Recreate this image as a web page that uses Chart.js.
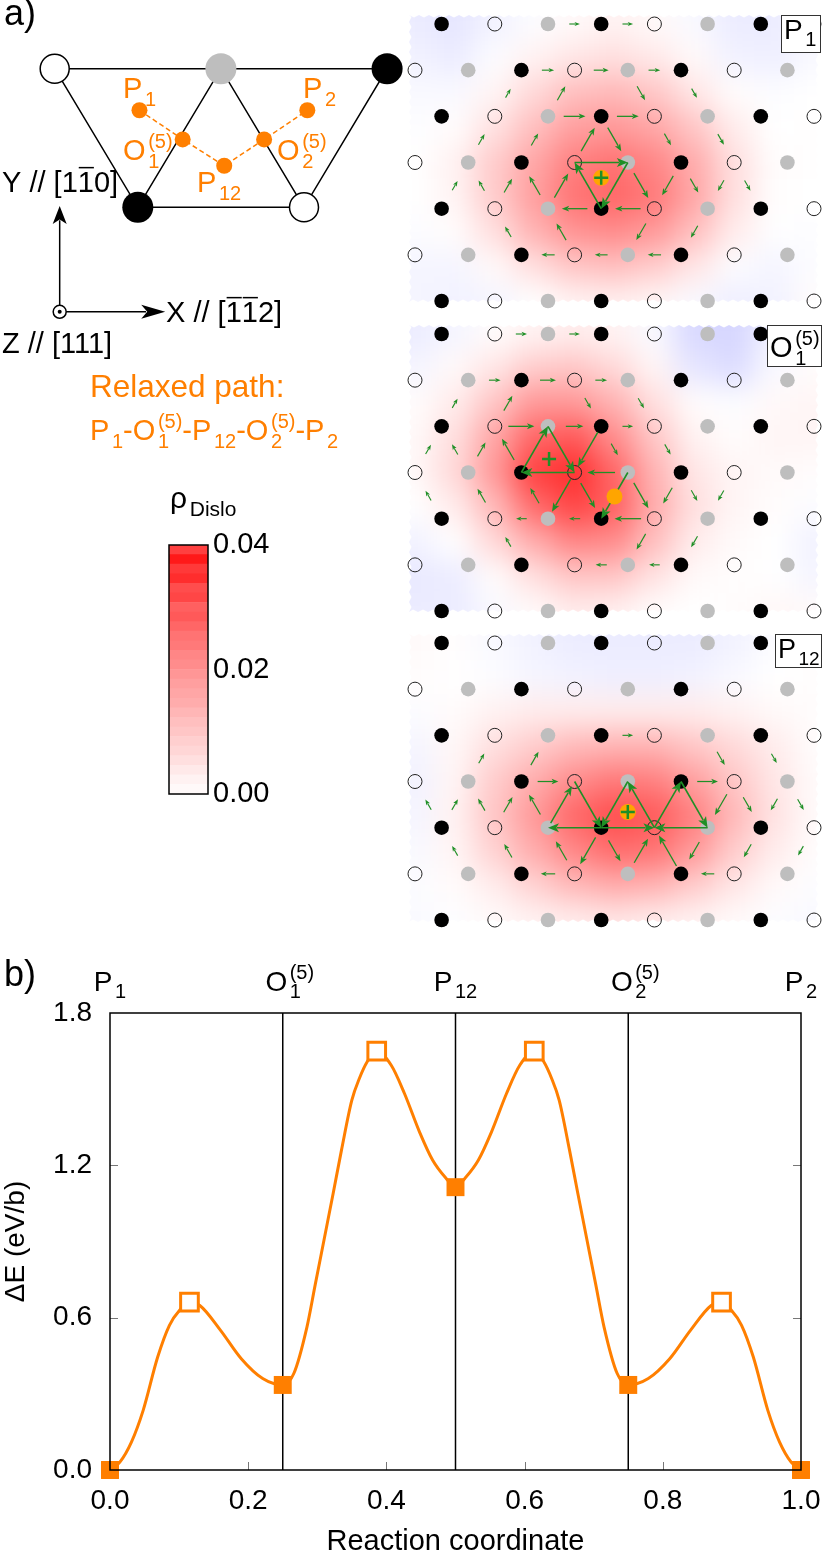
<!DOCTYPE html>
<html>
<head>
<meta charset="utf-8">
<title>Dislocation core path</title>
<script src="https://cdn.jsdelivr.net/npm/chart.js@4/dist/chart.umd.js"></script>
<style>
    html, body { margin: 0; padding: 0; background: #fff; }
    body { position: relative; width: 822px; height: 1554px; overflow: hidden; }
    canvas { position: absolute; }
    #schematic { left: 0; top: 0; }
    #panel-p1 { left: 405px; top: 0; }
    #panel-o1 { left: 405px; top: 315px; }
    #panel-p12 { left: 405px; top: 625px; }
    #colorbar { left: 165px; top: 480px; }
    #energy { left: 0; top: 950px; }
</style>
</head>
<body>
<canvas id="schematic" width="405" height="480"></canvas>
<canvas id="panel-p1" width="417" height="315"></canvas>
<canvas id="panel-o1" width="417" height="307"></canvas>
<canvas id="panel-p12" width="417" height="305"></canvas>
<canvas id="colorbar" width="120" height="340"></canvas>
<canvas id="energy" width="822" height="604"></canvas>
<script>
// Energy profile (panel b)
const curveX = [0, .014, .031, .048, .069, .086, .101, .115, .13, .16, .19, .221, .25, .266, .285, .297, .31, .323, .335, .35, .361, .372, .386, .407, .426, .448, .467, .486, .5,
    .514, .533, .552, .574, .593, .614, .628, .639, .65, .665, .677, .69, .703, .715, .734, .75, .779, .81, .84, .87, .885, .899, .914, .931, .952, .969, .986, 1];
const curveE = [0, .03, .11, .235, .445, .57, .63, .661, .648, .55, .438, .36, .335, .38, .563, .73, .91, 1.09, 1.26, 1.457, 1.543, 1.607, 1.65, 1.594, 1.484, 1.331, 1.22, 1.15, 1.114,
    1.15, 1.22, 1.331, 1.484, 1.594, 1.65, 1.607, 1.543, 1.457, 1.26, 1.09, .91, .73, .563, .38, .335, .36, .438, .55, .648, .661, .63, .57, .445, .235, .11, .03, 0];
const minimaX = [0, .25, .5, .75, 1];
const minimaE = [0, .335, 1.114, .335, 0];
const saddleX = [.115, .386, .614, .885];
const saddleE = [.661, 1.65, 1.65, .661];
const xTicks = [0, .2, .4, .6, .8, 1];
const yTicks = [0, .6, 1.2, 1.8];
const separatorX = [.25, .5, .75];

// Atoms, in lattice units: column = half a row step, row = one atomic row
const latticeRows = [0, 1, 2, 3, 4, 5, 6];
const evenRowCols = [1, 3, 5, 7, 9, 11, 13, 15];
const evenRowKinds = ['black', 'white', 'gray', 'black', 'white', 'gray', 'black', 'white'];
const oddRowCols = [0, 2, 4, 6, 8, 10, 12, 14];
const oddRowKinds = ['white', 'gray', 'black', 'white', 'gray', 'black', 'white', 'gray'];

// Disregistry arrows: from col, from row, to col, to row, share of the bond
const arrowsP1 = [
    [5,0,7,0,.2],[7,0,9,0,.2],[4,1,6,1,.23],[6,1,8,1,.28],[8,1,10,1,.22],
    [3,2,4,1,.19],[5,2,6,1,.3],[8,1,9,2,.3],[10,1,11,2,.2],[5,2,7,2,.41],[7,2,9,2,.41],
    [2,3,3,2,.23],[4,3,5,2,.26],[6,3,7,2,.51],[7,2,8,3,.51],[9,2,10,3,.25],[11,2,12,3,.23],
    [6,3,8,3,1],[8,3,7,4,1],[7,4,6,3,1],
    [1,4,2,3,.2],[3,4,2,3,.22],[3,4,4,3,.3],[5,4,4,3,.41],[5,4,6,3,.52],[8,3,9,4,.54],
    [10,3,9,4,.42],[10,3,11,4,.3],[12,3,11,4,.23],[12,3,13,4,.22],
    [7,4,5,4,.48],[9,4,7,4,.48],
    [4,5,3,4,.23],[6,5,5,4,.36],[9,4,8,5,.36],[11,4,10,5,.26],
    [6,5,4,5,.25],[8,5,6,5,.24],[10,5,8,5,.25]
];
const arrowsO1 = [
    [3,0,5,0,.21],[5,0,7,0,.2],[2,1,4,1,.22],[4,1,6,1,.3],[6,1,8,1,.22],
    [1,2,2,1,.2],[3,2,4,1,.32],[6,1,7,2,.23],[8,1,9,2,.22],[3,2,5,2,.49],[5,2,7,2,.33],[7,2,9,2,.2],
    [0,3,1,2,.2],[2,3,1,2,.22],[2,3,3,2,.3],[4,3,3,2,.46],[4,3,5,2,1],[5,2,6,3,1],[7,2,6,3,.75],
    [7,2,8,3,.25],[9,2,10,3,.22],[6,3,4,3,1],[8,3,6,3,.52],
    [1,4,0,3,.21],[3,4,2,3,.3],[5,4,4,3,.33],[6,3,5,4,.7],[6,3,7,4,.54],[8,3,7,4,1],[8,3,9,4,.55],
    [10,3,9,4,.34],[10,3,11,4,.23],[12,3,11,4,.22],
    [5,4,3,4,.2],[7,4,5,4,.21],[9,4,7,4,.5],
    [4,5,3,4,.21],[9,4,8,5,.34],[11,4,10,5,.24],[8,5,6,5,.21],[10,5,8,5,.2]
];
const arrowsP12 = [
    [7,2,9,2,.2],[2,3,3,2,.21],[4,3,5,2,.29],[11,2,12,3,.29],[13,2,14,3,.2],
    [4,3,6,3,.39],[10,3,12,3,.39],
    [1,4,0,3,.22],[1,4,2,3,.23],[3,4,2,3,.26],[3,4,4,3,.33],[5,4,4,3,.43],[5,4,6,3,.8],[6,3,7,4,1],
    [8,3,7,4,1],[9,4,8,3,1],[9,4,10,3,1],[10,3,11,4,1],[12,3,11,4,.45],[12,3,13,4,.32],[14,3,13,4,.25],[14,3,15,4,.23],
    [7,4,5,4,1],[7,4,9,4,1],[11,4,9,4,1],
    [2,5,1,4,.21],[4,5,3,4,.29],[6,5,5,4,.41],[7,4,6,5,.58],[7,4,8,5,.45],[8,5,9,4,.52],[10,5,9,4,.66],
    [11,4,10,5,.38],[13,4,12,5,.28],[15,4,14,5,.2],[6,5,4,5,.27],[12,5,10,5,.25]
];

// Dislocation density, in units of 0.001, one line per row
const heatCols = [0, 1.5, 3, 4.5, 6, 7.5, 9, 10.5, 12, 13.5, 15];
const heatRows = [0, .75, 1.5, 2.25, 3, 3.75, 4.5, 5.25, 6];
const rhoP1 = [
    [-3, -4, -2, -.5, 1, 2, 1, -1, -3, -3, -1],
    [-2, -3, -.5, 2, 4, 5, 3.5, 1, -2, -2.5, -1],
    [-1, -1, 1.5, 6, 10, 11, 9, 4, .5, -.5, 0],
    [-.3, .5, 4.5, 10, 15, 16, 14, 9, 3, 0, .2],
    [0, 2, 8, 14, 20, 22, 19, 13, 5, .5, .2],
    [0, 1.8, 8, 15, 22, 24, 21, 14, 5, .3, 0],
    [-.5, .5, 5, 12, 17, 18, 16, 10, 3, -.2, -.3],
    [-1.5, -1.5, 1, 5, 9, 10, 8, 4, -.5, -1.5, -.5],
    [-1.5, -2, -1.5, .2, 2, 2.5, 1.5, -1, -2.5, -2, .5]
];
const rhoO1 = [
    [-3, -1.5, .5, 2, 3, 2, -1, -6, -6.5, -2, -1],
    [-1.5, 1, 4, 8, 9, 6, 1.5, -4, -5.5, -1, .5],
    [.5, 3, 9, 16, 16, 12, 5, .5, -.5, 1, 1.5],
    [1, 5, 14, 24, 26, 18, 9, 2, .5, 1.5, 1.5],
    [1, 6, 16, 30, 33, 24, 12, 4, 1.5, .8, .5],
    [0, 3, 11, 23, 29, 25, 13, 5, 1.5, .5, -.5],
    [-2, 0, 6, 13, 19, 18, 10, 3, .8, 0, -2],
    [-3.5, -3, .5, 5, 9, 9, 4.5, 1, .3, 0, -1.5],
    [-3, -3, -1, .8, 3, 2.5, .5, 0, .5, 1.2, .8]
];
const rhoP12 = [
    [.8, .3, -1, -2, -3, -3, -3, -3, -2, -.5, 0],
    [.5, 0, -.5, -1.5, -2, -2.5, -2.5, -2, -1, 0, .3],
    [-.5, .7, 2, 3, 3, 3, 3, 3, 2, 1, .5],
    [-1.5, 1.2, 5, 8, 11, 12, 12, 9, 6, 3, .5],
    [-2, 1.5, 8, 13, 18, 21, 20, 15, 9, 4, .8],
    [-1.5, 2, 9, 16, 24, 28, 26, 20, 11, 4.5, .8],
    [-1, 1.5, 7, 13, 19, 23, 22, 16, 8, 3, .5],
    [-.5, .7, 3, 7, 11, 13, 12, 8, 4, 1, -.3],
    [-.8, -.3, .8, 2, 3, 4, 3, 2, .8, -.5, -1]
];

// Colour bar levels, bottom to top, in units of 0.001
const colorbarLevels = [1, 2, 3.5, 5, 6.5, 7.5, 9, 10, 11.5, 13, 14, 15, 16.5, 18, 19, 21, 22, 24, 26, 25, 29, 28, 33, 31, 36, 30];
const colorbarTicks = [0, .02, .04];

// Schematic (panel a, top left)
const cellCols = [0, 2, 4, 1, 3];
const cellRows = [0, 0, 0, 1, 1];
const cellKinds = ['white', 'gray', 'black', 'black', 'white'];
const pathCols = [1.02, 1.54, 2.04, 2.52, 3.04];
const pathRows = [.3, .51, .7, .51, .3];

const FONT = '"Liberation Sans", Arial, sans-serif';
const ORANGE = '#ff7f00';
const GREEN = '#1f8f26';
const sharedOptions = { responsive: false, animation: false, events: [] };

function rhoColor(v) {
    const t = Math.min(Math.abs(v) / 40, 1);
    const c = Math.round(255 * (1 - t));
    return v >= 0 ? `rgb(255,${c},${c})` : `rgb(${c},${c},255)`;
}

// Text with subscripts, superscripts and overbars
function drawRich(ctx, x, y, tokens, size, color, draw = true) {
    const small = Math.round(size * 0.7);
    let cx = x;
    ctx.save();
    ctx.fillStyle = color;
    ctx.strokeStyle = color;
    ctx.textAlign = 'left';
    ctx.textBaseline = 'alphabetic';
    tokens.forEach(tok => {
        if (typeof tok === 'string') {
            ctx.font = `${size}px ${FONT}`;
            if (draw) ctx.fillText(tok, cx, y);
            cx += ctx.measureText(tok).width;
        } else if (tok.bar) {
            ctx.font = `${size}px ${FONT}`;
            const w = ctx.measureText(tok.bar).width;
            if (draw) {
                ctx.fillText(tok.bar, cx, y);
                ctx.lineWidth = 1.5;
                ctx.beginPath();
                ctx.moveTo(cx + 1, y - size * 0.84);
                ctx.lineTo(cx + w, y - size * 0.84);
                ctx.stroke();
            }
            cx += w;
        } else {
            ctx.font = `${small}px ${FONT}`;
            cx += size * 0.09;
            let w = 0;
            if (tok.sup) {
                if (draw) ctx.fillText(tok.sup, cx, y - size * 0.42);
                w = ctx.measureText(tok.sup).width;
            }
            if (tok.sub) {
                if (draw) ctx.fillText(tok.sub, cx, y + size * 0.26);
                w = Math.max(w, ctx.measureText(tok.sub).width);
            }
            cx += w;
        }
    });
    ctx.restore();
    return cx - x;
}

function drawArrow(ctx, x0, y0, x1, y1, lineWidth, headLen, headWidth, color) {
    const a = Math.atan2(y1 - y0, x1 - x0);
    ctx.save();
    ctx.strokeStyle = color;
    ctx.fillStyle = color;
    ctx.lineWidth = lineWidth;
    ctx.beginPath();
    ctx.moveTo(x0, y0);
    ctx.lineTo(x1 - Math.cos(a) * headLen * 0.8, y1 - Math.sin(a) * headLen * 0.8);
    ctx.stroke();
    ctx.translate(x1, y1);
    ctx.rotate(a);
    ctx.beginPath();
    ctx.moveTo(0, 0);
    ctx.lineTo(-headLen, headWidth / 2);
    ctx.lineTo(-headLen * 0.75, 0);
    ctx.lineTo(-headLen, -headWidth / 2);
    ctx.closePath();
    ctx.fill();
    ctx.restore();
}

function zigzagPath(ctx, l, t, r, b) {
    const step = 5, amp = 2.5;
    ctx.beginPath();
    let i = 0;
    ctx.moveTo(l, t);
    for (let x = l; x < r; x += step) ctx.lineTo(x, t + (i++ % 2 ? amp : 0));
    for (let y = t; y < b; y += step) ctx.lineTo(r - (i++ % 2 ? amp : 0), y);
    for (let x = r; x > l; x -= step) ctx.lineTo(x, b - (i++ % 2 ? amp : 0));
    for (let y = b; y > t; y -= step) ctx.lineTo(l + (i++ % 2 ? amp : 0), y);
    ctx.closePath();
}

// Density map under the atoms
const heatPlugin = {
    id: 'heat',
    beforeDatasetsDraw(chart, args, opts) {
        const { ctx, scales: { x, y }, width, height } = chart;
        const pad = 70;
        const off = document.createElement('canvas');
        off.width = width + 2 * pad;
        off.height = height + 2 * pad;
        const oc = off.getContext('2d');
        const edge = (vals, i, scale, last) => {
            if (i < 0) return -pad;
            if (i >= vals.length - 1) return last + pad;
            return (scale.getPixelForValue(vals[i]) + scale.getPixelForValue(vals[i + 1])) / 2;
        };
        opts.grid.forEach((row, j) => {
            row.forEach((v, i) => {
                const l = edge(heatCols, i - 1, x, width), r = edge(heatCols, i, x, width);
                const t = edge(heatRows, j - 1, y, height), b = edge(heatRows, j, y, height);
                oc.fillStyle = rhoColor(v);
                oc.fillRect(Math.floor(l) + pad, Math.floor(t) + pad, Math.ceil(r - l) + 1, Math.ceil(b - t) + 1);
            });
        });
        ctx.save();
        zigzagPath(ctx, 4, opts.top, width - 4, opts.bottom);
        ctx.clip();
        ctx.filter = 'blur(14px)';
        ctx.drawImage(off, -pad, -pad);
        ctx.restore();
    }
};

// Green arrows go over the atoms and under the orange core marker
const arrowPlugin = {
    id: 'arrows',
    afterDatasetDraw(chart, args, opts) {
        if (chart.data.datasets[args.index].label !== 'black atoms') return;
        const { ctx, scales: { x, y } } = chart;
        opts.list.forEach(([c0, r0, c1, r1, share]) => {
            const ax = x.getPixelForValue(c0), ay = y.getPixelForValue(r0);
            const bx = x.getPixelForValue(c1), by = y.getPixelForValue(r1);
            const mx = (ax + bx) / 2, my = (ay + by) / 2;
            const k = share / 2;
            drawArrow(ctx, mx - (bx - ax) * k, my - (by - ay) * k, mx + (bx - ax) * k, my + (by - ay) * k,
                1 + share * 0.6, 4 + share * 7, 3 + share * 6, GREEN);
        });
    },
    afterDatasetsDraw(chart, args, opts) {
        const { ctx } = chart;
        const b = opts.box;
        ctx.save();
        ctx.fillStyle = '#fff';
        ctx.strokeStyle = '#333';
        ctx.lineWidth = 1;
        ctx.fillRect(b.l, b.t, b.r - b.l, b.b - b.t);
        ctx.strokeRect(b.l + .5, b.t + .5, b.r - b.l - 1, b.b - b.t - 1);
        ctx.restore();
        drawRich(ctx, b.l + 3, b.base, b.tokens, b.size, '#000');
    }
};

function atomPoints(kind) {
    const pts = [];
    latticeRows.forEach(r => {
        const cols = r % 2 ? oddRowCols : evenRowCols;
        const kinds = r % 2 ? oddRowKinds : evenRowKinds;
        cols.forEach((c, i) => { if (kinds[i] === kind) pts.push({ x: c, y: r }); });
    });
    return pts;
}

function drawPanel(id, grid, arrows, corePoint, plusPoint, row0Px, heatTop, heatBottom, box) {
    const canvas = document.getElementById(id);
    const halfStep = 26.6, rowStep = 46.17;
    new Chart(canvas, {
        type: 'scatter',
        data: {
            datasets: [
                { label: 'core plus', data: [plusPoint], pointStyle: 'cross', pointRadius: 7, pointBorderWidth: 2.5, pointBorderColor: GREEN, clip: false, order: 0 },
                { label: 'core', data: corePoint ? [corePoint] : [], pointRadius: 8, pointBackgroundColor: '#ffa500', pointBorderWidth: 0, clip: false, order: 1 },
                { label: 'black atoms', data: atomPoints('black'), pointRadius: 7.3, pointBackgroundColor: '#000', pointBorderWidth: 0, clip: false, order: 2 },
                { label: 'gray atoms', data: atomPoints('gray'), pointRadius: 7.3, pointBackgroundColor: '#bebebe', pointBorderWidth: 0, clip: false, order: 3 },
                { label: 'white atoms', data: atomPoints('white'), pointRadius: 7, pointBackgroundColor: 'rgba(0,0,0,0)', pointBorderColor: '#222', pointBorderWidth: 1, clip: false, order: 4 }
            ]
        },
        options: {
            ...sharedOptions,
            layout: { padding: 0, autoPadding: false },
            scales: {
                x: { display: false, min: -10 / halfStep, max: (canvas.width - 10) / halfStep },
                y: { display: false, reverse: true, min: -row0Px / rowStep, max: (canvas.height - row0Px) / rowStep }
            },
            plugins: {
                legend: { display: false },
                tooltip: { enabled: false },
                heat: { grid, top: heatTop, bottom: heatBottom },
                arrows: { list: arrows, box }
            }
        },
        plugins: [heatPlugin, arrowPlugin]
    });
}

// Structure maps
drawPanel('panel-p1', rhoP1, arrowsP1, { x: 7, y: 3.33 }, { x: 7, y: 3.33 }, 24, 15, 302,
    { l: 376, t: 15, r: 416, b: 53, base: 39, size: 28, tokens: ['P', { sub: '1' }] });
drawPanel('panel-o1', rhoO1, arrowsO1, { x: 7.5, y: 3.52 }, { x: 5.04, y: 2.71 }, 19, 10, 297,
    { l: 362, t: 10, r: 417, b: 52, base: 42, size: 29, tokens: ['O', { sub: '1', sup: '(5)' }] });
drawPanel('panel-p12', rhoP12, arrowsP12, { x: 8, y: 3.66 }, { x: 8, y: 3.66 }, 18, 9, 297,
    { l: 370, t: 9, r: 417, b: 43, base: 33, size: 27, tokens: ['P', { sub: '12' }] });

// Schematic of the triangular cell and the axes
const breakPoint = { x: NaN, y: NaN };
const schematicPlugin = {
    id: 'schematicText',
    afterDatasetsDraw(chart) {
        const { ctx, scales: { x, y } } = chart;
        const ox = x.getPixelForValue(.06), oy = y.getPixelForValue(1.754);
        ctx.save();
        ctx.strokeStyle = '#000';
        ctx.lineWidth = 1.5;
        ctx.beginPath();
        ctx.arc(ox, oy, 6.5, 0, Math.PI * 2);
        ctx.stroke();
        ctx.fillStyle = '#000';
        ctx.beginPath();
        ctx.arc(ox, oy, 2, 0, Math.PI * 2);
        ctx.fill();
        ctx.restore();
        drawArrow(ctx, ox, oy - 6.5, ox, y.getPixelForValue(.99), 1.5, 18, 14, '#000');
        drawArrow(ctx, ox + 6.5, oy, x.getPixelForValue(1.33), oy, 1.5, 24, 14, '#000');

        drawRich(ctx, 4, 25, ['a)'], 36, '#000');
        drawRich(ctx, 2, 192, ['Y // [1', { bar: '1' }, '0]'], 29, '#000');
        drawRich(ctx, 166, 322, ['X // [', { bar: '1' }, { bar: '1' }, '2]'], 29, '#000');
        drawRich(ctx, 2, 353, ['Z // [111]'], 29, '#000');

        drawRich(ctx, 123, 98, ['P', { sub: '1' }], 29, ORANGE);
        drawRich(ctx, 303, 98, ['P', { sub: '2' }], 29, ORANGE);
        drawRich(ctx, 123, 160, ['O', { sub: '1', sup: '(5)' }], 29, ORANGE);
        drawRich(ctx, 277, 160, ['O', { sub: '2', sup: '(5)' }], 29, ORANGE);
        drawRich(ctx, 197, 192, ['P', { sub: '12' }], 29, ORANGE);
        drawRich(ctx, 90, 397, ['Relaxed path:'], 31.5, ORANGE);
        drawRich(ctx, 90, 440, ['P', { sub: '1' }, '-O', { sub: '1', sup: '(5)' }, '-P', { sub: '12' }, '-O', { sub: '2', sup: '(5)' }, '-P', { sub: '2' }], 29, ORANGE);
    }
};

function cellPoints(kind) {
    return cellCols.map((c, i) => ({ x: c, y: cellRows[i], kind: cellKinds[i] }))
        .filter(p => p.kind === kind);
}

new Chart(document.getElementById('schematic'), {
    type: 'scatter',
    data: {
        datasets: [
            { label: 'path', data: pathCols.map((c, i) => ({ x: c, y: pathRows[i] })), showLine: true, borderColor: ORANGE, borderWidth: 1.5, borderDash: [5, 3], pointRadius: 8, pointBackgroundColor: ORANGE, pointBorderWidth: 0, order: 0 },
            { label: 'black', data: cellPoints('black'), pointRadius: 15.5, pointBackgroundColor: '#000', pointBorderWidth: 0, order: 1 },
            { label: 'gray', data: cellPoints('gray'), pointRadius: 15.5, pointBackgroundColor: '#bebebe', pointBorderWidth: 0, order: 1 },
            { label: 'white', data: cellPoints('white'), pointRadius: 14.5, pointBackgroundColor: '#fff', pointBorderColor: '#000', pointBorderWidth: 1.5, order: 1 },
            {
                label: 'bonds', showLine: true, spanGaps: false, borderColor: '#000', borderWidth: 1.5, pointRadius: 0, order: 2,
                data: [{ x: 0, y: 0 }, { x: 4, y: 0 }, { x: 3, y: 1 }, { x: 1, y: 1 }, { x: 0, y: 0 }, breakPoint, { x: 1, y: 1 }, { x: 2, y: 0 }, { x: 3, y: 1 }]
            }
        ]
    },
    options: {
        ...sharedOptions,
        layout: { padding: 0, autoPadding: false },
        scales: {
            x: { display: false, min: -54.7 / 83.1, max: (405 - 54.7) / 83.1 },
            y: { display: false, reverse: true, min: -68.7 / 138.6, max: (480 - 68.7) / 138.6 }
        },
        plugins: { legend: { display: false }, tooltip: { enabled: false } }
    },
    plugins: [schematicPlugin]
});

// Colour bar as a stacked bar
const colorbarPlugin = {
    id: 'colorbarFrame',
    afterDatasetsDraw(chart) {
        const { ctx, chartArea: a } = chart;
        ctx.save();
        ctx.strokeStyle = '#000';
        ctx.lineWidth = 1.5;
        ctx.strokeRect(a.left, a.top, a.right - a.left, a.bottom - a.top);
        ctx.restore();
        drawRich(ctx, 5, 28, ['ρ', { sub: 'Dislo' }], 30, '#000');
    }
};

new Chart(document.getElementById('colorbar'), {
    type: 'bar',
    data: {
        labels: ['rho'],
        datasets: colorbarLevels.map(level => ({
            data: [.04 / colorbarLevels.length],
            backgroundColor: rhoColor(level),
            borderWidth: 0,
            barPercentage: 1,
            categoryPercentage: 1,
            stack: 'bar'
        }))
    },
    options: {
        ...sharedOptions,
        layout: { padding: { left: 4, top: 65, bottom: 26 }, autoPadding: false },
        scales: {
            x: { display: false, stacked: true },
            y: {
                position: 'right', stacked: true, min: 0, max: .04,
                afterFit: s => { s.width = 77; },
                afterBuildTicks: s => { s.ticks = colorbarTicks.map(value => ({ value })); },
                grid: { display: false, drawTicks: false },
                border: { display: false },
                ticks: { padding: 5, color: '#000', font: { family: FONT, size: 29 }, callback: v => v.toFixed(2) }
            }
        },
        plugins: { legend: { display: false }, tooltip: { enabled: false } }
    },
    plugins: [colorbarPlugin]
});

// Energy profile
const pathLabels = [
    ['P', { sub: '1' }],
    ['O', { sub: '1', sup: '(5)' }],
    ['P', { sub: '12' }],
    ['O', { sub: '2', sup: '(5)' }],
    ['P', { sub: '2' }]
];
const energyPlugin = {
    id: 'energyFrame',
    afterDatasetsDraw(chart) {
        const { ctx, chartArea: a, scales: { x, y } } = chart;
        ctx.save();
        ctx.strokeStyle = '#777';
        ctx.lineWidth = 1;
        ctx.beginPath();
        xTicks.slice(1, -1).forEach(v => {
            const px = Math.round(x.getPixelForValue(v)) + .5;
            ctx.moveTo(px, a.bottom);
            ctx.lineTo(px, a.bottom - 8);
        });
        yTicks.slice(1, -1).forEach(v => {
            const py = Math.round(y.getPixelForValue(v)) + .5;
            ctx.moveTo(a.left, py);
            ctx.lineTo(a.left + 8, py);
            ctx.moveTo(a.right, py);
            ctx.lineTo(a.right - 8, py);
        });
        ctx.stroke();
        ctx.strokeStyle = '#000';
        ctx.lineWidth = 1.5;
        ctx.strokeRect(a.left, a.top, a.right - a.left, a.bottom - a.top);
        ctx.restore();

        drawRich(ctx, 4, 36, ['b)'], 36, '#000');
        pathLabels.forEach((tokens, i) => {
            const w = drawRich(ctx, 0, 0, tokens, 28, '#000', false);
            const shift = tokens[1].sup ? 7 : 0;
            drawRich(ctx, x.getPixelForValue(minimaX[i]) - w / 2 + shift, 41, tokens, 28, '#000');
        });
    }
};

const separatorData = [];
separatorX.forEach(v => {
    separatorData.push({ x: v, y: 0 }, { x: v, y: 1.8 }, breakPoint);
});

new Chart(document.getElementById('energy'), {
    type: 'scatter',
    data: {
        datasets: [
            { label: 'minima', data: minimaX.map((v, i) => ({ x: v, y: minimaE[i] })), pointStyle: 'rect', pointRadius: 12.7, pointBackgroundColor: ORANGE, pointBorderWidth: 0, clip: false, order: 0 },
            { label: 'saddles', data: saddleX.map((v, i) => ({ x: v, y: saddleE[i] })), pointStyle: 'rect', pointRadius: 12.5, pointBackgroundColor: '#fff', pointBorderColor: ORANGE, pointBorderWidth: 3, clip: false, order: 1 },
            { label: 'path energy', data: curveX.map((v, i) => ({ x: v, y: curveE[i] })), showLine: true, borderColor: ORANGE, borderWidth: 3, pointRadius: 0, cubicInterpolationMode: 'monotone', clip: false, order: 2 },
            { label: 'states', data: separatorData, showLine: true, spanGaps: false, borderColor: '#000', borderWidth: 1.5, pointRadius: 0, order: 3 }
        ]
    },
    options: {
        ...sharedOptions,
        layout: { padding: { top: 63, right: 21 }, autoPadding: false },
        scales: {
            x: {
                type: 'linear', min: 0, max: 1,
                afterFit: s => { s.height = 84; s.paddingLeft = 0; s.paddingRight = 0; },
                afterBuildTicks: s => { s.ticks = xTicks.map(value => ({ value })); },
                grid: { display: false, drawTicks: false },
                border: { display: false },
                ticks: { padding: 14, maxRotation: 0, autoSkip: false, color: '#000', font: { family: FONT, size: 28 }, callback: v => v.toFixed(1) },
                title: { display: true, text: 'Reaction coordinate', color: '#000', font: { family: FONT, size: 29, lineHeight: 1 }, padding: { top: 0, bottom: -2 } }
            },
            y: {
                min: 0, max: 1.8,
                afterFit: s => { s.width = 110; s.paddingTop = 0; s.paddingBottom = 0; },
                afterBuildTicks: s => { s.ticks = yTicks.map(value => ({ value })); },
                grid: { display: false, drawTicks: false },
                border: { display: false },
                ticks: { padding: 18, autoSkip: false, color: '#000', font: { family: FONT, size: 28 }, callback: v => v.toFixed(1) },
                title: { display: true, text: 'ΔE (eV/b)', color: '#000', font: { family: FONT, size: 28, lineHeight: 1 }, padding: { top: 2, bottom: 0 } }
            }
        },
        plugins: { legend: { display: false }, tooltip: { enabled: false } }
    },
    plugins: [energyPlugin]
});
</script>
</body>
</html>
